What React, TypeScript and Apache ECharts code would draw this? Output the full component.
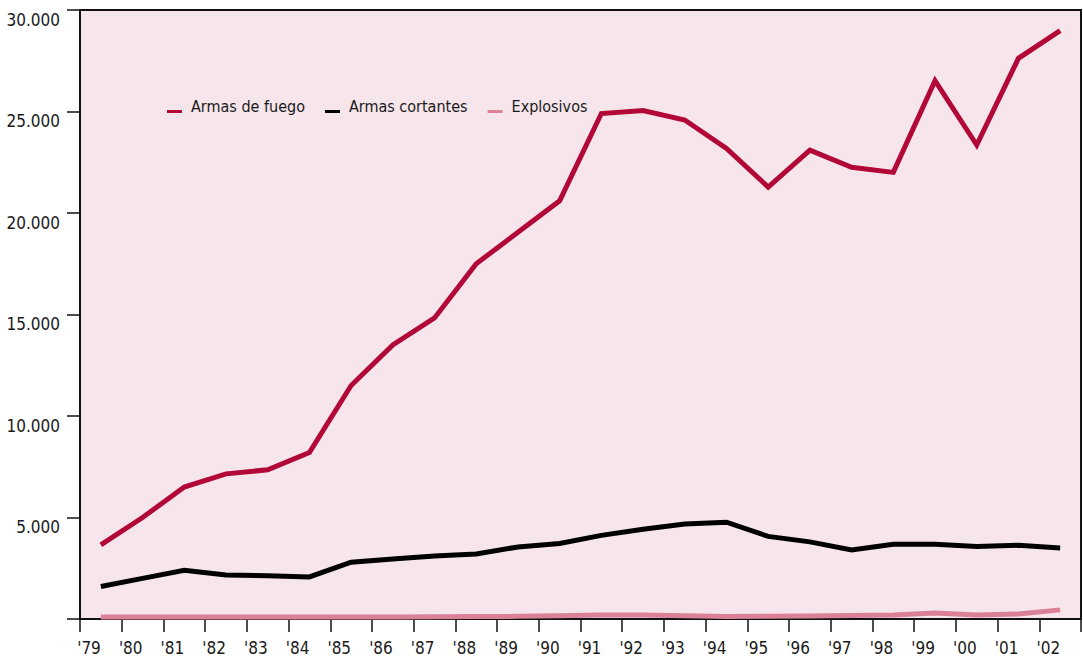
import React, { useEffect, useRef } from "react";
import * as echarts from "echarts";

const years = ["'79", "'80", "'81", "'82", "'83", "'84", "'85", "'86", "'87", "'88", "'89", "'90", "'91", "'92", "'93", "'94", "'95", "'96", "'97", "'98", "'99", "'00", "'01", "'02"];
const armasFuego = [3650, 5000, 6500, 7150, 7350, 8200, 11500, 13500, 14830, 17500, 19050, 20600, 24900, 25050, 24580, 23180, 21280, 23100, 22250, 22000, 26520, 23350, 27620, 28980];
const armasCortantes = [1600, 2000, 2400, 2170, 2130, 2070, 2800, 2950, 3100, 3200, 3550, 3720, 4120, 4420, 4680, 4770, 4070, 3800, 3400, 3680, 3680, 3570, 3630, 3500];
const explosivos = [100, 100, 100, 100, 100, 100, 100, 100, 110, 120, 130, 160, 200, 200, 160, 120, 140, 150, 170, 200, 300, 200, 250, 450];
const seriesNames = ["Armas de fuego", "Armas cortantes", "Explosivos"];
const seriesColors = ["#b20838", "#000000", "#da8199"];

const FONT = "'DejaVu Sans Condensed', 'Liberation Sans Narrow', sans-serif";
const LEGEND_ICON = "path://M0,0 L0,0 M0,11 L15,11 L15,14 L0,14 Z";

function fmt(v: number): string {
  if (v === 0) return "";
  const s = String(v);
  return s.replace(/\B(?=(\d{3})+(?!\d))/g, ".");
}

export default function App() {
  const ref = useRef<HTMLDivElement>(null);
  useEffect(() => {
    if (!ref.current) return;
    const chart = echarts.init(ref.current, undefined, { renderer: "svg" });
    const data = [armasFuego, armasCortantes, explosivos];
    chart.setOption({
      animation: false,
      backgroundColor: "#ffffff",
      textStyle: { fontFamily: FONT },
      grid: {
        left: 80,
        right: 2,
        top: 10,
        bottom: 41,
        show: true,
        backgroundColor: "#f6e5eb",
        borderColor: "#111",
        borderWidth: 2,
      },
      legend: {
        left: 162,
        top: 93,
        itemWidth: 15,
        itemHeight: 14,
        itemGap: 20,
        icon: LEGEND_ICON,
        data: seriesNames,
        textStyle: { fontFamily: FONT, fontSize: 16, color: "#1a1a1a", padding: [0, 0, 0, 4] },
      },
      xAxis: {
        type: "category",
        data: years,
        boundaryGap: true,
        axisLine: { lineStyle: { color: "#111", width: 2 } },
        axisTick: { show: true, length: 13, lineStyle: { color: "#111", width: 1.5 } },
        axisLabel: {
          align: "right",
          margin: 20,
          fontFamily: FONT,
          fontSize: 17,
          color: "#1a1a1a",
          interval: 0,
        },
        splitLine: { show: false },
      },
      yAxis: {
        type: "value",
        min: 0,
        max: 30000,
        interval: 5000,
        axisLine: { show: true, lineStyle: { color: "#111", width: 2 } },
        axisTick: { show: true, length: 13, lineStyle: { color: "#111", width: 1.5 } },
        axisLabel: {
          margin: 20,
          fontFamily: FONT,
          fontSize: 17,
          color: "#1a1a1a",
          verticalAlign: "top",
          padding: [1, 0, 0, 0],
          formatter: (v: number) => fmt(v),
        },
        splitLine: { show: false },
      },
      series: seriesNames.map((name, i) => ({
        name,
        type: "line",
        data: data[i],
        symbol: "none",
        color: seriesColors[i],
        lineStyle: { width: 5, color: seriesColors[i], join: "miter" },
        z: 3 - i,
      })),
    });
    return () => chart.dispose();
  }, []);
  return <div ref={ref} style={{ position: "fixed", left: 0, top: 0, width: 1083, height: 660 }} />;
}
